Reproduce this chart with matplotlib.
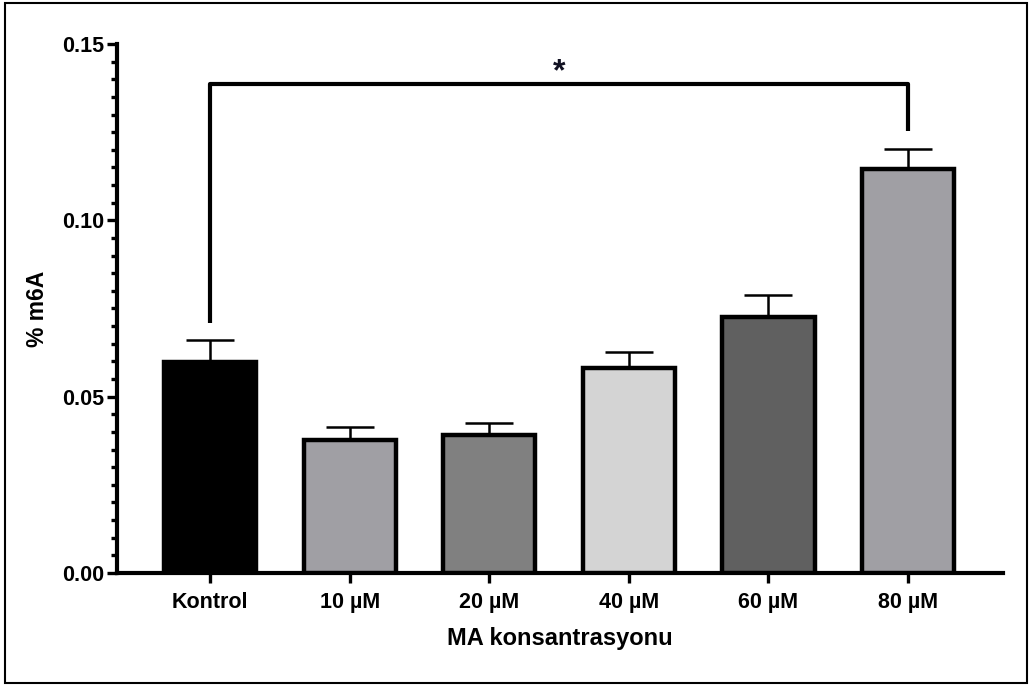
import matplotlib
matplotlib.use("Agg")
import matplotlib.pyplot as plt
from matplotlib.ticker import MultipleLocator, AutoMinorLocator
from matplotlib.patches import Rectangle
import numpy as np

plt.rcParams['font.family'] = ['Liberation Sans', 'DejaVu Sans']
plt.rcParams['font.weight'] = 'bold'

# m6A levels per MA concentration (mean and upper SEM)
groups = ["Kontrol", "10 µM", "20 µM", "40 µM", "60 µM", "80 µM"]
m6a = [0.0598, 0.0377, 0.0391, 0.0581, 0.0726, 0.1145]
sem = [0.0063, 0.0037, 0.0034, 0.0046, 0.0062, 0.0057]
colors = ["#000000", "#A09FA4", "#808080", "#D4D4D4", "#606060", "#A09FA4"]

# significance bracket Kontrol vs 80 µM
bracket_y = 0.1386
bracket_left = 0.0709
bracket_right = 0.1253

fig = plt.figure(figsize=(10.31, 6.86), dpi=100)
ax = fig.add_axes([0.1135, 0.1647, 0.8593, 0.7712])

x = np.arange(len(groups))
ax.errorbar(x, m6a, yerr=[np.zeros(len(sem)), sem], fmt='none',
            ecolor='black', elinewidth=1.8, capsize=17, capthick=1.8,
            zorder=2)
ax.bar(x, m6a, width=0.66, color=colors, edgecolor='black',
       linewidth=3.2, zorder=3)

ax.plot([0, 0, 5, 5], [bracket_left, bracket_y, bracket_y, bracket_right],
        color='black', lw=3, solid_capstyle='butt', zorder=4)
ax.text(2.5, 0.1420, "*", ha='center', va='center', fontsize=23,
        fontweight='bold', color='#111122')

ax.set_xlim(-0.667, 5.68)
ax.set_ylim(0, 0.15)
ax.yaxis.set_major_locator(MultipleLocator(0.05))
ax.yaxis.set_minor_locator(AutoMinorLocator(10))
ax.yaxis.set_major_formatter(matplotlib.ticker.FormatStrFormatter('%.2f'))
ax.set_xticks(x)
ax.set_xticklabels(groups)

for side in ['top', 'right']:
    ax.spines[side].set_visible(False)
for side in ['left', 'bottom']:
    ax.spines[side].set_linewidth(3)

ax.tick_params(axis='both', which='major', length=7, width=2.4,
               labelsize=15.5, direction='out')
ax.tick_params(axis='y', which='minor', length=4.5, width=2.4)
ax.tick_params(axis='x', which='major', pad=7)
ax.tick_params(axis='y', which='major', pad=2)

ax.set_xlabel("MA konsantrasyonu", fontsize=17, fontweight='bold', labelpad=10)
ax.set_ylabel("% m6A", fontsize=16.5, fontweight='bold', labelpad=10)

# frame around the whole figure
fig.patches.append(Rectangle((5 / 1031, 3 / 686), 1022 / 1031, 680 / 686,
                             transform=fig.transFigure, fill=False,
                             edgecolor='black', linewidth=1.5))

fig.savefig("out.png", dpi=100)
